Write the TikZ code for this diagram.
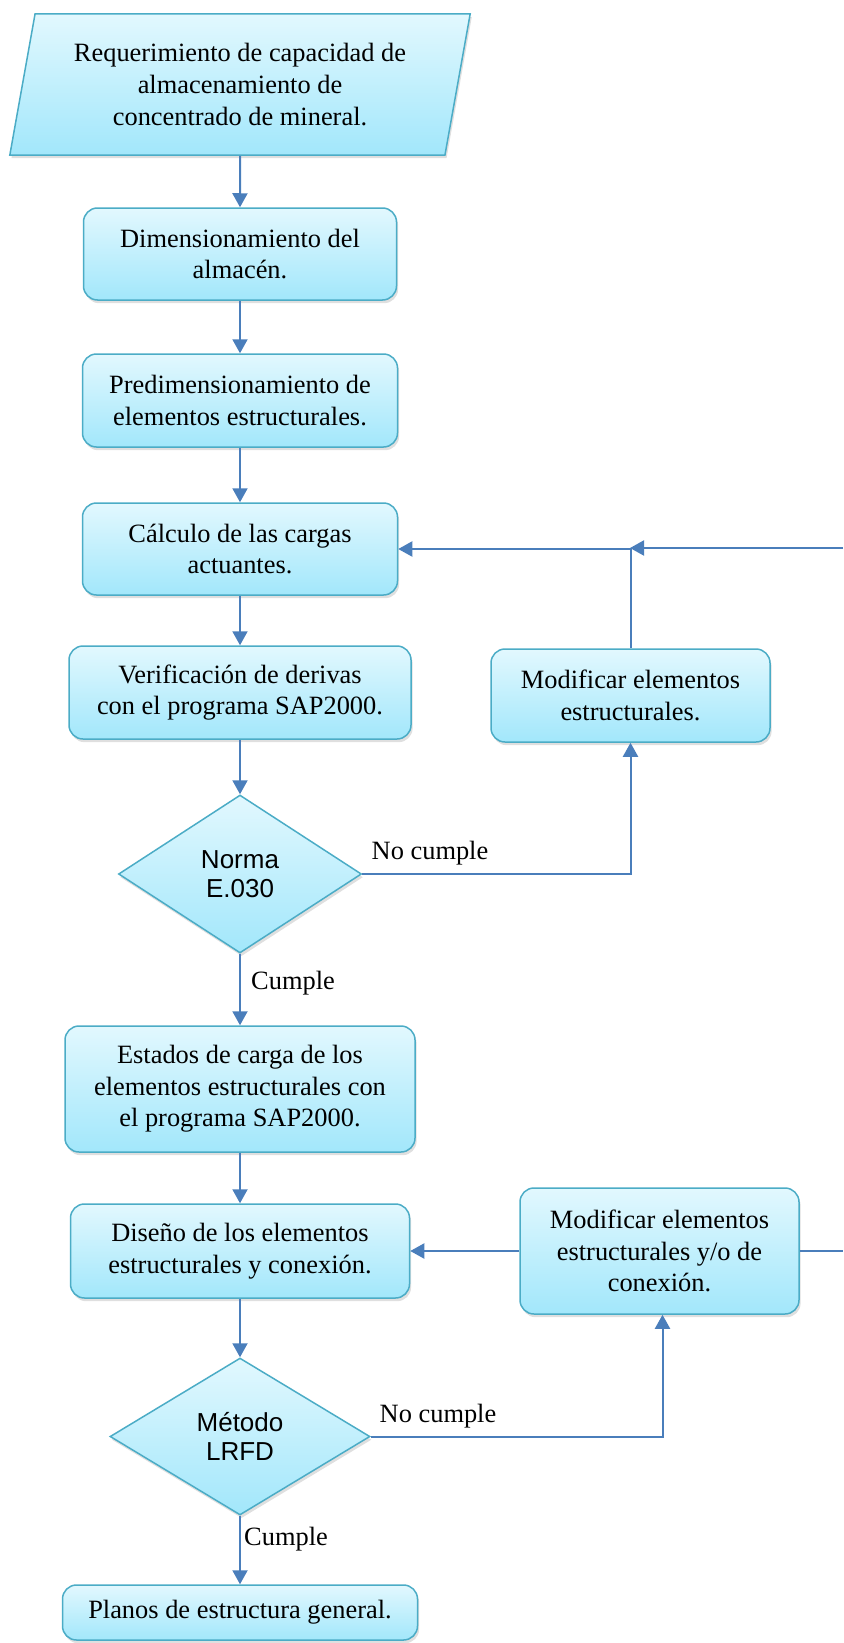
\documentclass[tikz,border=0pt]{standalone}
\usepackage{fontspec}
\setmainfont{Liberation Serif}
\newfontfamily\arialfont{Liberation Sans}
\usetikzlibrary{shapes.geometric,shadows,arrows.meta}
\definecolor{edgeblue}{RGB}{74,126,187}
\definecolor{rimteal}{RGB}{75,172,198}
\definecolor{filltop}{RGB}{226,248,254}
\definecolor{fillbot}{RGB}{162,231,251}
\begin{document}
\begin{tikzpicture}
            [x=0.5pt, y=-0.5pt,
             shape base/.style = {draw=rimteal, line width=0.75pt, top color=filltop, bottom color=fillbot,
                                  drop shadow={opacity=0.25, shadow xshift=0.8pt, shadow yshift=-1.6pt},
                                  align=center, inner sep=0pt, font=\fontsize{13.2}{15.8}\selectfont},
             box/.style = {shape base, rectangle, rounded corners=7pt},
             data/.style = {shape base, trapezium, trapezium left angle=76, trapezium right angle=104,
                            trapezium stretches=true},
             decision/.style = {shape base, diamond, font=\arialfont\fontsize{13}{14.6}\selectfont},
             arrow/.style = {draw=edgeblue, line width=1pt, -{Triangle[width=7.5pt, length=7pt]}},
             link/.style = {draw=edgeblue, line width=1pt},
             lbl/.style = {inner sep=0pt, font=\fontsize{13.2}{15.8}\selectfont}]
            \useasboundingbox (0,0) rectangle (843,1643);
            % main column
            \node[data] (req) at (240,84.5) [minimum width=230.5pt, minimum height=70.5pt]
                {Requerimiento de capacidad de\\almacenamiento de\\concentrado de mineral.};
            \node[box] (dim) at (240,254) [minimum width=156.5pt, minimum height=46pt]
                {Dimensionamiento del\\almacén.};
            \node[box] (pre) at (240,400.5) [minimum width=157.5pt, minimum height=46.5pt]
                {Predimensionamiento de\\elementos estructurales.};
            \node[box] (cal) at (240,549) [minimum width=157.5pt, minimum height=46pt]
                {Cálculo de las cargas\\actuantes.};
            \node[box] (ver) at (240,692.5) [minimum width=171pt, minimum height=46.5pt]
                {Verificación de derivas\\con el programa SAP2000.};
            \node[decision] (norma) at (240,874) [minimum width=121.5pt, minimum height=79pt]
                {Norma\\E.030};
            \node[box] (est) at (240,1089) [minimum width=175pt, minimum height=63pt]
                {Estados de carga de los\\elementos estructurales con\\el programa SAP2000.};
            \node[box] (dis) at (240,1251) [minimum width=169.5pt, minimum height=47pt]
                {Diseño de los elementos\\estructurales y conexión.};
            \node[decision] (lrfd) at (240,1436.5) [minimum width=130pt, minimum height=78.5pt]
                {Método\\LRFD};
            \node[box] (pla) at (240,1612.5) [minimum width=177.5pt, minimum height=27.5pt]
                {Planos de estructura general.};
            % loop boxes
            \node[box] (mod1) at (630.5,695.5) [minimum width=139.5pt, minimum height=46.5pt]
                {Modificar elementos\\estructurales.};
            \node[box] (mod2) at (659.5,1251) [minimum width=139.5pt, minimum height=63pt]
                {Modificar elementos\\estructurales y/o de\\conexión.};
            % labels
            \node[lbl] (nc1) at (430,853) {No cumple};
            \node[lbl] (c1) at (293,983) {Cumple};
            \node[lbl] (nc2) at (438,1416) {No cumple};
            \node[lbl] (c2) at (286,1539) {Cumple};
            % corner points
            \coordinate (j1) at (630,548);
            \coordinate (r1) at (843,548);
            \coordinate (r2) at (843,1251);
            % connectors
            \draw[arrow] (req) -- (dim);
            \draw[arrow] (dim) -- (pre);
            \draw[arrow] (pre) -- (cal);
            \draw[arrow] (cal) -- (ver);
            \draw[arrow] (ver) -- (norma);
            \draw[arrow] (norma) -- (est);
            \draw[arrow] (est) -- (dis);
            \draw[arrow] (dis) -- (lrfd);
            \draw[arrow] (lrfd) -- (pla);
            \draw[arrow] (norma.east) -| (mod1.south);
            \draw[arrow] (mod1.north) |- (cal.east);
            \draw[arrow] (r1) -- (j1);
            \draw[arrow] (lrfd.east) -| ([xshift=1.5pt]mod2.south);
            \draw[arrow] (mod2.west) -- (dis.east);
            \draw[link] (mod2.east) -- (r2);
        \end{tikzpicture}
\end{document}
